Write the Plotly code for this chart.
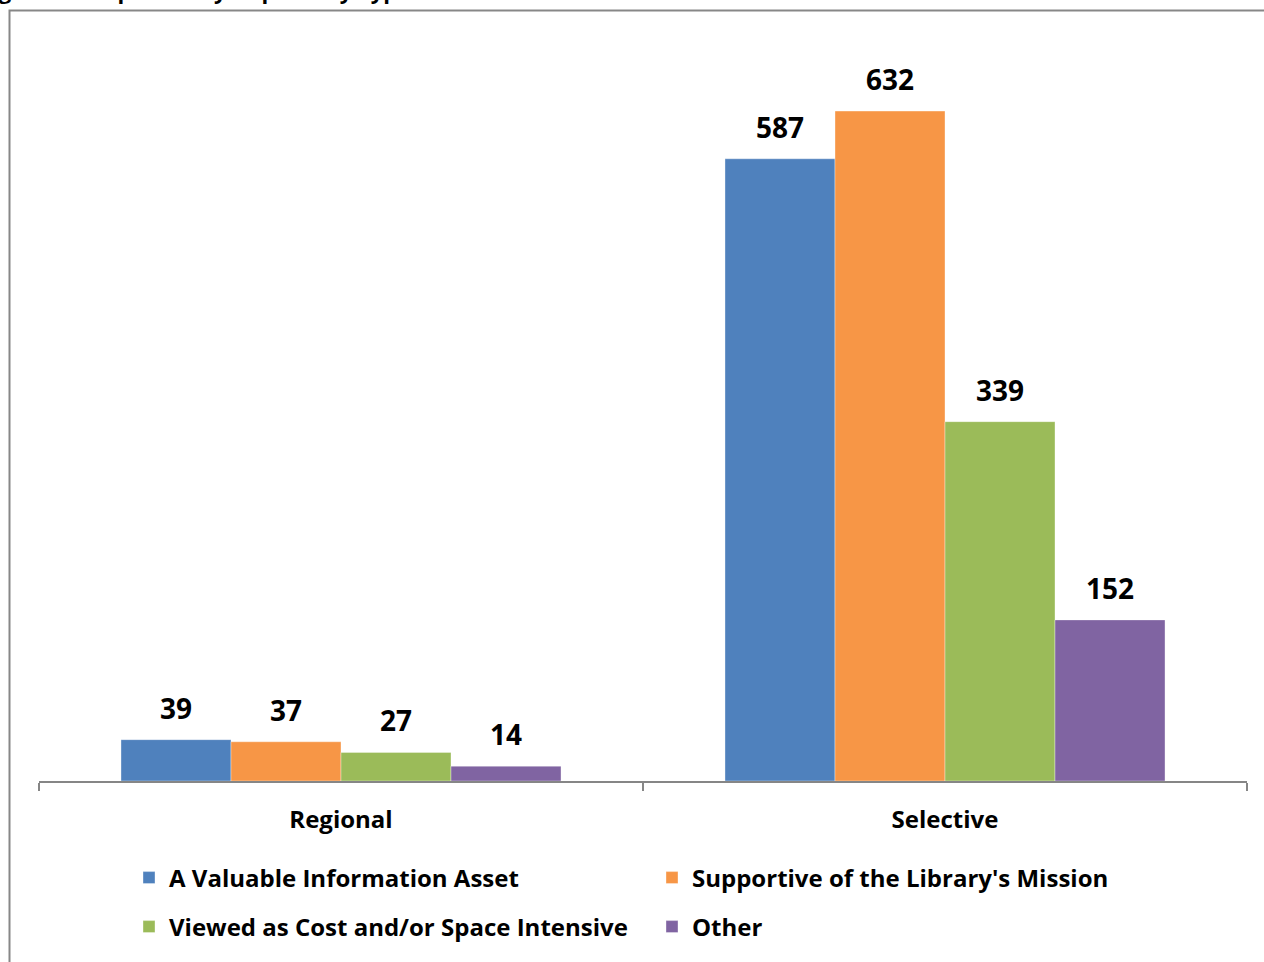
import plotly.graph_objects as go

# ---- data ----
categories = ["Regional", "Selective"]
series_names = [
    "A Valuable Information Asset",
    "Supportive of the Library's Mission",
    "Viewed as Cost and/or Space Intensive",
    "Other",
]
valuable_asset = [39, 587]
supportive_mission = [37, 632]
cost_space_intensive = [27, 339]
other = [14, 152]
title_text = "Figure 3: Responses by Depository Type"

series_values = [valuable_asset, supportive_mission, cost_space_intensive, other]
colors = ["#4F81BD", "#F79646", "#9BBB59", "#8064A2"]
legend_ids = ["legend", "legend", "legend2", "legend2"]

FONT = "Open Sans"
W, H = 1264, 962
ML, MR, MT, MB = 39, 17, 39, 181
PW = W - ML - MR
PH = H - MT - MB
BARGAP = 0.2715


def px_x(p):
    return (p - ML) / PW


def px_y(p):
    return (H - MB - p) / PH


fig = go.Figure()
for i, (name, vals) in enumerate(zip(series_names, series_values)):
    fig.add_trace(go.Bar(
        x=categories, y=vals, name=name,
        marker=dict(color=colors[i], line=dict(width=0.6, color="rgba(255,255,255,0.6)")),
        offsetgroup=str(i),
        legend=legend_ids[i],
        hoverinfo="skip",
    ))
for i, vals in enumerate(series_values):
    fig.add_trace(go.Scatter(
        x=categories, y=vals, mode="markers+text",
        text=[str(v) for v in vals], textposition="top center",
        textfont=dict(family=FONT, size=28, color="black", weight="bold"),
        marker=dict(size=21, opacity=0),
        offsetgroup=str(i), showlegend=False, hoverinfo="skip", cliponaxis=False,
    ))

legend_font = dict(family=FONT, size=24, color="black", weight="bold")

fig.update_layout(
    width=W, height=H,
    margin=dict(l=ML, r=MR, t=MT, b=MB, pad=0),
    paper_bgcolor="white", plot_bgcolor="white",
    barmode="group", bargap=BARGAP, bargroupgap=0,
    scattermode="group", scattergap=BARGAP,
    showlegend=True,
    font=dict(family=FONT, color="black"),
    xaxis=dict(
        type="category", range=[-0.5, 1.5],
        showline=True, linecolor="#868686", linewidth=2,
        ticks="outside", tickson="boundaries", ticklen=8, tickwidth=2, tickcolor="#868686",
        ticklabelstandoff=16,
        tickfont=dict(family=FONT, size=24, color="black", weight="bold"),
        showgrid=False, zeroline=False,
    ),
    yaxis=dict(range=[0, 700], visible=False, showgrid=False, zeroline=False),
    legend=dict(
        orientation="h", x=px_x(129), xanchor="left", y=px_y(878), yanchor="middle",
        entrywidth=478, entrywidthmode="pixels",
        font=legend_font, bgcolor="rgba(0,0,0,0)", traceorder="normal",
    ),
    legend2=dict(
        orientation="h", x=px_x(129), xanchor="left", y=px_y(927), yanchor="middle",
        entrywidth=478, entrywidthmode="pixels",
        font=legend_font, bgcolor="rgba(0,0,0,0)", traceorder="normal",
    ),
    shapes=[dict(
        type="rect", xref="paper", yref="paper",
        x0=px_x(9.5), x1=px_x(1300), y0=px_y(1100), y1=px_y(10.5),
        line=dict(color="#878787", width=2), fillcolor="rgba(0,0,0,0)", layer="below",
    )],
    annotations=[dict(
        text=title_text, xref="paper", yref="paper",
        x=px_x(412), xanchor="right", y=1, yanchor="bottom", yshift=MT - 7,
        showarrow=False, font=dict(family=FONT, size=22, color="black", weight="bold"),
    )],
)

fig.write_html(
    "out.html",
    config={"displayModeBar": False},
    post_script="document.body.style.margin='0';",
)
